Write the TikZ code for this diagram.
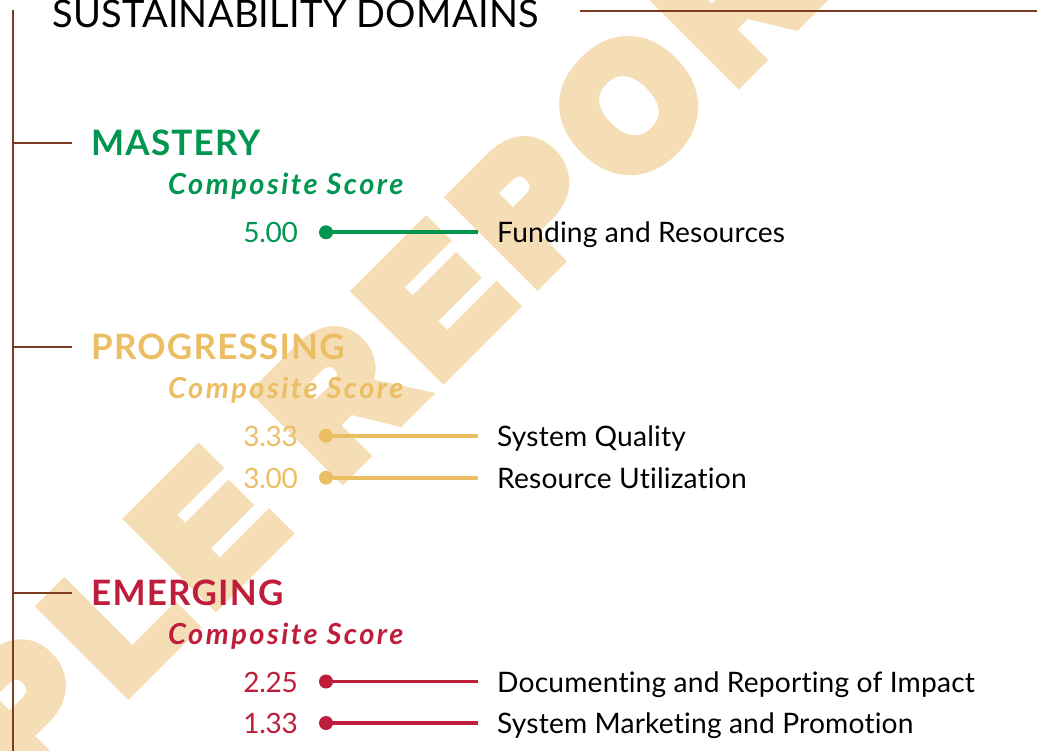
\documentclass[tikz,border=0pt]{standalone}
\usepackage{fontspec}
\setmainfont{Lato}[Ligatures={TeX,NoCommon}]
\newfontfamily\wmfont[LetterSpace=13, FakeBold=10.5]{Liberation Sans Bold}
\definecolor{brownline}{RGB}{127,58,34}
\definecolor{mgreen}{RGB}{0,150,80}
\definecolor{pgold}{RGB}{236,190,100}
\definecolor{ered}{RGB}{190,30,60}
\definecolor{wmark}{RGB}{245,221,181}
\tikzset{
  frame/.style={draw=brownline, line width=2pt},
  heading/.style={anchor=base west, inner sep=0pt, font={\fontsize{35}{40}\selectfont\bfseries\addfontfeatures{LetterSpace=3.5}}},
  comp/.style={anchor=base west, inner sep=0pt, font={\fontsize{29}{34}\selectfont\bfseries\itshape\addfontfeatures{LetterSpace=8.5}}},
  score/.style={anchor=base east, inner sep=0pt, font={\fontsize{28}{34}\selectfont\addfontfeatures{LetterSpace=-1}}},
  item/.style={anchor=base west, inner sep=0pt, font={\fontsize{28.2}{33}\selectfont\addfontfeatures{LetterSpace=0.6}}},
  dotnode/.style={circle, fill, inner sep=0pt, minimum size=14pt},
  link/.style={line width=3.8pt},
}
\begin{document}
\begin{tikzpicture}[x=1pt, y=-1pt]
\useasboundingbox (0,0) rectangle (1037,751);
\fill[white] (0,0) rectangle (1037,751);
% watermark
\node[rotate=45, anchor=base, inner sep=0pt, text=wmark, font={\fontsize{167}{180}\wmfont}] (wm) at (311,505) {SAMPLE REPORT};
% frame
\coordinate (vtop) at (13,10);
\coordinate (vbot) at (13,751);
\draw[frame] (vtop) -- (vbot);
\coordinate (hl) at (580,11);
\coordinate (hr) at (1037,11);
\draw[frame] (hl) -- (hr);
\node[anchor=base west, inner sep=0pt, font={\fontsize{38}{44}\selectfont\addfontfeatures{LetterSpace=0.6}}] (title) at (52,28) {SUSTAINABILITY DOMAINS};
% ticks
\coordinate (t1a) at (13,143.5); \coordinate (t1b) at (72,143.5);
\coordinate (t2a) at (13,347); \coordinate (t2b) at (72,347);
\coordinate (t3a) at (13,592.5); \coordinate (t3b) at (72,592.5);
\draw[frame] (t1a) -- (t1b);
\draw[frame] (t2a) -- (t2b);
\draw[frame] (t3a) -- (t3b);
% MASTERY
\node[heading, text=mgreen] (h1) at (91,156) {MASTERY};
\node[comp, text=mgreen] (c1) at (168,195) {Composite Score};
\node[score, text=mgreen] (s11) at (298,243) {5.00};
\node[dotnode, fill=mgreen] (d11) at (326,232.3) {};
\coordinate (e11) at (478,232.3);
\draw[link, draw=mgreen] (d11.center) -- (e11);
\node[item] (l11) at (497,243) {Funding and Resources};
% PROGRESSING
\node[heading, text=pgold] (h2) at (91,359.5) {PROGRESSING};
\node[comp, text=pgold] (c2) at (168,398.5) {Composite Score};
\node[score, text=pgold] (s21) at (298,446.2) {3.33};
\node[dotnode, fill=pgold] (d21) at (326,435.7) {};
\coordinate (e21) at (478,435.7);
\draw[link, draw=pgold] (d21.center) -- (e21);
\node[item] (l21) at (497,446.2) {System Quality};
\node[score, text=pgold] (s22) at (298,488.2) {3.00};
\node[dotnode, fill=pgold] (d22) at (326,477.7) {};
\coordinate (e22) at (478,477.7);
\draw[link, draw=pgold] (d22.center) -- (e22);
\node[item] (l22) at (497,488.2) {Resource Utilization};
% EMERGING
\node[heading, text=ered] (h3) at (91,605) {EMERGING};
\node[comp, text=ered] (c3) at (168,644) {Composite Score};
\node[score, text=ered] (s31) at (298,692) {2.25};
\node[dotnode, fill=ered] (d31) at (326,681.5) {};
\coordinate (e31) at (478,681.5);
\draw[link, draw=ered] (d31.center) -- (e31);
\node[item] (l31) at (497,692) {Documenting and Reporting of Impact};
\node[score, text=ered] (s32) at (298,733.5) {1.33};
\node[dotnode, fill=ered] (d32) at (326,723) {};
\coordinate (e32) at (478,723);
\draw[link, draw=ered] (d32.center) -- (e32);
\node[item] (l32) at (497,733.5) {System Marketing and Promotion};
\end{tikzpicture}
\end{document}
